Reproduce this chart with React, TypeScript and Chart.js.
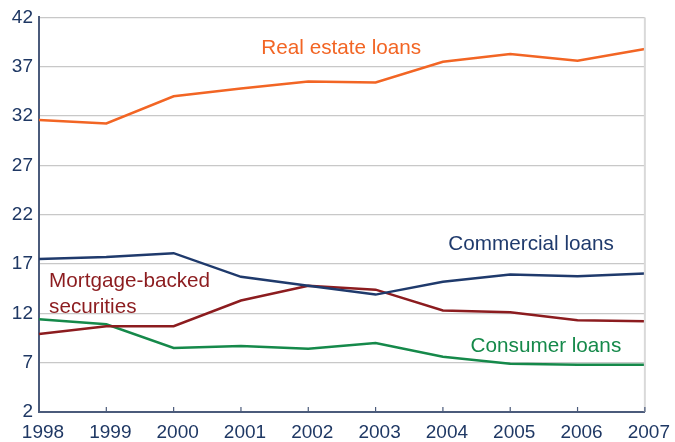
import React, { useEffect, useRef } from "react";
import { Chart, registerables } from "chart.js";

Chart.register(...registerables);

const years = ["1998", "1999", "2000", "2001", "2002", "2003", "2004", "2005", "2006", "2007"];
const realEstate = [31.6, 31.25, 34.0, 34.8, 35.5, 35.4, 37.5, 38.3, 37.6, 38.8];
const commercial = [17.5, 17.7, 18.1, 15.7, 14.8, 13.9, 15.2, 15.95, 15.75, 16.05];
const mortgage = [9.9, 10.7, 10.7, 13.3, 14.8, 14.4, 12.3, 12.1, 11.3, 11.2];
const consumer = [11.4, 10.9, 8.5, 8.7, 8.4, 9.0, 7.6, 6.9, 6.8, 6.8];
const yTicks = [2, 7, 12, 17, 22, 27, 32, 37, 42];

const colors = {
  realEstate: "#f26524",
  commercial: "#1f3a6c",
  mortgage: "#8c1c1f",
  consumer: "#15894a",
};

// Series labels: [text lines, x (category index), y (value), align]
const seriesLabels: { lines: string[]; x: number; y: number; align: CanvasTextAlign; color: string }[] = [
  { lines: ["Real estate loans"], x: 4.49, y: 38.24, align: "center", color: colors.realEstate },
  { lines: ["Commercial loans"], x: 7.31, y: 18.38, align: "center", color: colors.commercial },
  { lines: ["Mortgage-backed", "securities"], x: 0.15, y: 14.66, align: "left", color: colors.mortgage },
  { lines: ["Consumer loans"], x: 7.53, y: 8.08, align: "center", color: colors.consumer },
];

const FONT = "Arial, 'Liberation Sans', Helvetica, sans-serif";
const AXIS_COLOR = "#4b5b7b";
const TICK_COLOR = "#1f3864";

const decorPlugin = {
  id: "decor",
  afterDatasetsDraw(chart: any) {
    const { ctx, chartArea, scales } = chart;
    const xs = scales.x;
    const ys = scales.y;
    ctx.save();
    // right border
    ctx.strokeStyle = "#d9d9d9";
    ctx.lineWidth = 2;
    ctx.beginPath();
    ctx.moveTo(chartArea.right, chartArea.top);
    ctx.lineTo(chartArea.right, chartArea.bottom);
    ctx.stroke();
    // inward x tick marks
    ctx.strokeStyle = AXIS_COLOR;
    ctx.lineWidth = 1.2;
    years.forEach((_, i) => {
      const px = xs.getPixelForValue(i);
      ctx.beginPath();
      ctx.moveTo(px, chartArea.bottom - 5);
      ctx.lineTo(px, chartArea.bottom);
      ctx.stroke();
    });
    // series labels
    ctx.font = `20.7px ${FONT}`;
    ctx.textBaseline = "alphabetic";
    seriesLabels.forEach((l) => {
      ctx.fillStyle = l.color;
      ctx.textAlign = l.align;
      const px = xs.getPixelForValue(l.x);
      const py = ys.getPixelForValue(l.y);
      l.lines.forEach((line, k) => {
        ctx.fillText(line, px, py + k * 26);
      });
    });
    ctx.restore();
  },
};

export default function App() {
  const ref = useRef<HTMLCanvasElement>(null);
  useEffect(() => {
    document.body.style.margin = "0";
    const ctx = ref.current!;
    const mk = (data: number[], color: string) => ({
      data,
      borderColor: color,
      backgroundColor: color,
      borderWidth: 2.5,
      pointRadius: 0,
      tension: 0,
      fill: false,
    });
    const chart = new Chart(ctx, {
      type: "line",
      data: {
        labels: years,
        datasets: [
          mk(realEstate, colors.realEstate),
          mk(commercial, colors.commercial),
          mk(mortgage, colors.mortgage),
          mk(consumer, colors.consumer),
        ],
      },
      options: {
        animation: false,
        responsive: false,
        maintainAspectRatio: false,
        layout: { padding: { top: 17, right: 28, left: 0, bottom: 0 } },
        plugins: { legend: { display: false }, tooltip: { enabled: false } },
        scales: {
          x: {
            type: "category",
            offset: false,
            grid: { display: false, drawTicks: false },
            border: { display: true, color: AXIS_COLOR, width: 2 },
            ticks: {
              color: TICK_COLOR,
              font: { size: 19, family: FONT },
              padding: 9,
              maxRotation: 0,
              autoSkip: false,
              labelOffset: 4,
            },
            afterFit: (s: any) => {
              s.height = 30;
            },
          },
          y: {
            min: 2,
            max: 42,
            afterBuildTicks: (s: any) => {
              s.ticks = yTicks.map((v) => ({ value: v }));
            },
            grid: { color: "#c8c8c8", lineWidth: 1.2, drawTicks: false },
            border: { display: true, color: AXIS_COLOR, width: 2 },
            ticks: {
              color: TICK_COLOR,
              font: { size: 19, family: FONT },
              padding: 6,
            },
            afterFit: (s: any) => {
              s.width = 39;
            },
          },
        },
      },
      plugins: [decorPlugin],
    } as any);
    return () => chart.destroy();
  }, []);
  return (
    <div style={{ position: "absolute", left: 0, top: 0, width: 675, height: 442 }}>
      <canvas ref={ref} width={675} height={442} style={{ display: "block" }} />
    </div>
  );
}
